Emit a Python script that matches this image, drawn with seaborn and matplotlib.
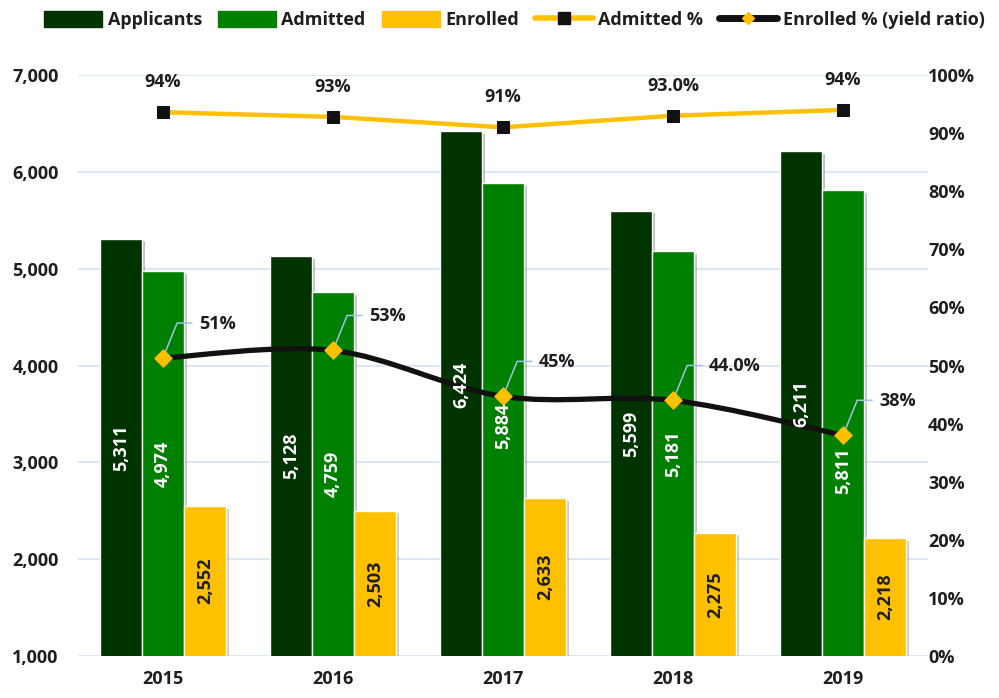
import pandas as pd
import seaborn as sns
import matplotlib.pyplot as plt
from matplotlib.path import Path
from matplotlib.patches import PathPatch, Patch
from matplotlib.lines import Line2D
from matplotlib.ticker import FuncFormatter, PercentFormatter, MultipleLocator
import matplotlib.patheffects as pe

years = ["2015", "2016", "2017", "2018", "2019"]
applicants = [5311, 5128, 6424, 5599, 6211]
admitted = [4974, 4759, 5884, 5181, 5811]
enrolled = [2552, 2503, 2633, 2275, 2218]
admitted_pct = [0.936, 0.928, 0.910, 0.930, 0.940]
admitted_pct_labels = ["94%", "93%", "91%", "93.0%", "94%"]
yield_pct = [0.513, 0.526, 0.447, 0.440, 0.380]
yield_pct_labels = ["51%", "53%", "45%", "44.0%", "38%"]

series = ["Applicants", "Admitted", "Enrolled"]
colors = {"Applicants": "#003300", "Admitted": "#008000", "Enrolled": "#FFC000"}
gold = "#FFC000"
txt = "#1e1e1e"
# hand-nudged label positions (pixels, + is up) as in the original chart
label_nudge = {("Applicants", 2): 9, ("Admitted", 2): -6, ("Admitted", 4): -48}

sns.set_style("white")
plt.rcParams["font.family"] = ["Open Sans", "DejaVu Sans"]
plt.rcParams["font.weight"] = "bold"

df = pd.DataFrame({"year": years * 3,
                   "series": [s for s in series for _ in years],
                   "value": applicants + admitted + enrolled})

fig = plt.figure(figsize=(9.99, 6.98), dpi=100)
ax = fig.add_axes([0.078, 0.060, 0.851, 0.8325])

sns.barplot(data=df, x="year", y="value", hue="series", hue_order=series,
            palette=colors, width=0.741, gap=0, saturation=1, legend=False,
            ax=ax, zorder=2)
for bar in ax.patches:
    bar.set_path_effects([pe.SimplePatchShadow(offset=(2, -2), alpha=0.25), pe.Normal()])

ax.set_xlim(-0.5, 4.5)
ax.set_ylim(1000, 7000)
ax.yaxis.set_major_locator(MultipleLocator(1000))
ax.yaxis.set_major_formatter(FuncFormatter(lambda v, p: f"{v:,.0f}"))
ax.grid(axis="y", color="#D6E1F2", linewidth=1.2, zorder=0)
ax.set_axisbelow(True)
for s in ax.spines.values():
    s.set_visible(False)
ax.set_xlabel("")
ax.set_ylabel("")
ax.tick_params(axis="both", length=0, labelsize=13, colors=txt)
ax.tick_params(axis="x", pad=10)
ax.tick_params(axis="y", pad=14)

ax2 = ax.twinx()
ax2.set_ylim(0, 1)
ax2.yaxis.set_major_locator(MultipleLocator(0.1))
ax2.yaxis.set_major_formatter(PercentFormatter(1.0, decimals=0))
for s in ax2.spines.values():
    s.set_visible(False)
ax2.tick_params(axis="y", length=0, labelsize=13, colors=txt, pad=0)

xs = list(range(len(years)))
pct_df = pd.DataFrame({"x": xs, "admitted": admitted_pct, "yield": yield_pct})

sns.lineplot(data=pct_df, x="x", y="admitted", color=gold, linewidth=3.2,
             marker="s", markersize=8, markerfacecolor="#111111",
             markeredgecolor="#111111", ax=ax2, zorder=3)
for x, y, lab in zip(xs, admitted_pct, admitted_pct_labels):
    ax2.annotate(lab, (x, y), xytext=(0, 30), textcoords="offset pixels",
                 ha="center", va="center", fontsize=13, fontweight="bold", color=txt)

# smoothed yield line (Catmull-Rom as Bezier path through the data points)
pts = list(zip(xs, yield_pct))
verts = [pts[0]]
codes = [Path.MOVETO]
for i in range(len(pts) - 1):
    p0 = pts[max(i - 1, 0)]
    p1 = pts[i]
    p2 = pts[i + 1]
    p3 = pts[min(i + 2, len(pts) - 1)]
    c1 = (p1[0] + (p2[0] - p0[0]) / 6, p1[1] + (p2[1] - p0[1]) / 6)
    c2 = (p2[0] - (p3[0] - p1[0]) / 6, p2[1] - (p3[1] - p1[1]) / 6)
    verts += [c1, c2, p2]
    codes += [Path.CURVE4] * 3
ax2.add_patch(PathPatch(Path(verts, codes), facecolor="none", edgecolor="#111111",
                        linewidth=3.8, capstyle="round", zorder=3))
sns.scatterplot(data=pct_df, x="x", y="yield", marker="D", s=80, color=gold,
                edgecolor=gold, ax=ax2, zorder=4)
for x, y, lab in zip(xs, yield_pct, yield_pct_labels):
    ax2.annotate("", xy=(x, y), xytext=(29, 35), textcoords="offset pixels",
                 arrowprops=dict(arrowstyle="-", color="#9DC3E6", lw=1.1,
                                 shrinkA=0, shrinkB=3,
                                 connectionstyle="angle,angleA=0,angleB=68,rad=0"))
    ax2.annotate(lab, (x, y), xytext=(36, 34), textcoords="offset pixels",
                 ha="left", va="center", fontsize=13, fontweight="bold", color=txt)
ax2.set_xlabel("")
ax2.set_ylabel("")
ax2.set_xlim(-0.5, 4.5)

# bar value labels, drawn above the lines (placed on ax2 with ax data coords)
for s, cont, c in zip(series, ax.containers, ["white", "white", txt]):
    for i, (bar, v) in enumerate(zip(cont.patches, cont.datavalues)):
        ax2.annotate(f"{v:,.0f}", (bar.get_x() + bar.get_width() / 2, (1000 + v) / 2),
                     xycoords=ax.transData, xytext=(0, label_nudge.get((s, i), 0)),
                     textcoords="offset pixels", rotation=90, ha="center", va="center",
                     color=c, fontsize=13, fontweight="bold", zorder=6)

handles = [Patch(color=colors[s], label=s) for s in series] + [
    Line2D([], [], color=gold, lw=4, marker="s", markersize=8, markerfacecolor="#111111",
           markeredgecolor="#111111", label="Admitted %"),
    Line2D([], [], color="#111111", lw=5, marker="D", markersize=6, markerfacecolor=gold,
           markeredgecolor=gold, label="Enrolled % (yield ratio)"),
]
fig.legend(handles=handles, loc="upper center", bbox_to_anchor=(0.515, 1.008), ncol=5,
           frameon=False, fontsize=13, handlelength=3.2, handleheight=1.0,
           columnspacing=0.9, handletextpad=0.3, labelcolor=txt)

fig.savefig("out.png", dpi=100)
